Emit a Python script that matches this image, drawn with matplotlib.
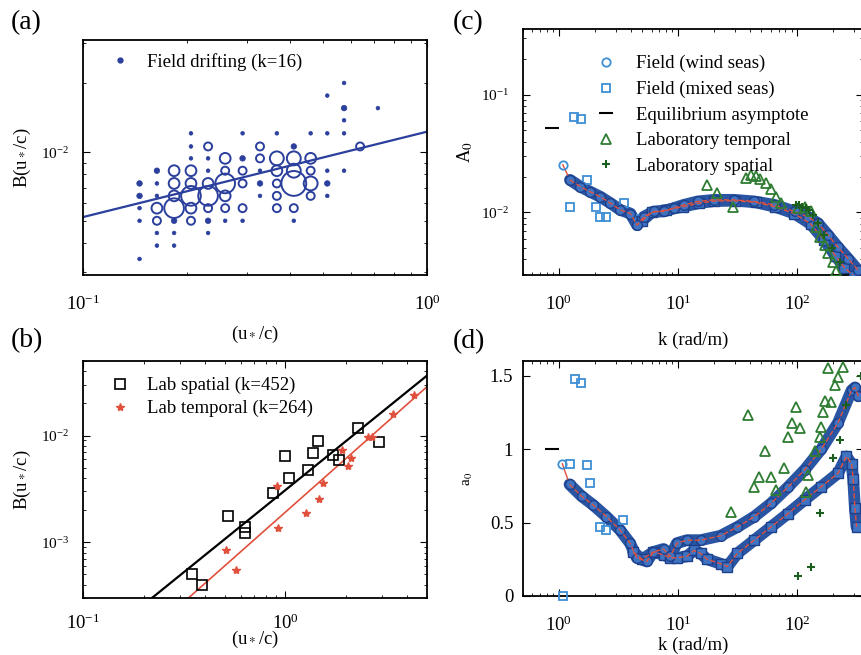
import numpy as np
import matplotlib
matplotlib.use("Agg")
import matplotlib.pyplot as plt
from matplotlib.lines import Line2D
from matplotlib.ticker import FixedLocator, NullFormatter

plt.rcParams.update({
    "font.family": "serif", "font.serif": ["Liberation Serif", "DejaVu Serif"],
    "mathtext.fontset": "stix", "font.size": 13.5,
    "xtick.direction": "in", "ytick.direction": "in",
    "xtick.top": True, "ytick.right": True,
    "xtick.major.size": 5, "ytick.major.size": 5,
    "xtick.minor.size": 2.5, "ytick.minor.size": 2.5,
    "xtick.major.pad": 14, "ytick.major.pad": 10,
    "axes.linewidth": 1.3,
})
NAVY, LIGHT, BAND, BAND_EDGE = "#2b3f9c", "#3d8fd6", "#2a55a3", "#1d3f8c"
GREEN, DGREEN, RED = "#2e7d32", "#1b5e20", "#e0503c"

# ---- (a) field drifting: binned u*/c vs B, marker size = number of samples
a_xbins = [0.146, 0.164, 0.184, 0.206, 0.231, 0.259, 0.291, 0.327, 0.366, 0.410,
           0.459, 0.513, 0.574, 0.639, 0.720]
a_ybins = [2.01e-2, 1.77e-2, 1.56e-2, 1.38e-2, 1.21e-2, 1.06e-2, 9.4e-3, 8.3e-3,
           7.3e-3, 6.44e-3, 5.69e-3, 5.01e-3, 4.43e-3, 3.90e-3, 3.41e-3]
# (column, row, count)
a_cells = [
    (0, 8, 2), (0, 9, 2), (0, 10, 1), (0, 11, 1), (0, 14, 1),
    (1, 7, 2), (1, 8, 1), (1, 9, 1), (1, 10, 4), (1, 11, 3), (1, 12, 1), (1, 13, 1),
    (2, 7, 4), (2, 8, 4), (2, 9, 4), (2, 10, 6), (2, 11, 2), (2, 12, 1), (2, 13, 1),
    (3, 4, 1), (3, 5, 1), (3, 6, 1), (3, 7, 4), (3, 8, 4), (3, 9, 6), (3, 10, 4), (3, 11, 3),
    (4, 5, 3), (4, 6, 1), (4, 7, 1), (4, 8, 4), (4, 9, 6), (4, 10, 3), (4, 11, 2), (4, 12, 1),
    (5, 6, 4), (5, 7, 3), (5, 8, 6), (5, 9, 4), (5, 10, 3), (5, 11, 1),
    (6, 4, 1), (6, 6, 2), (6, 7, 3), (6, 8, 3), (6, 10, 3), (6, 11, 1),
    (7, 5, 3), (7, 6, 3), (7, 7, 1), (7, 8, 2), (7, 9, 1),
    (8, 4, 1), (8, 6, 5), (8, 7, 4), (8, 8, 3), (8, 9, 3), (8, 10, 3),
    (9, 5, 2), (9, 6, 5), (9, 7, 5), (9, 8, 7), (9, 10, 3), (9, 11, 1),
    (10, 4, 1), (10, 6, 4), (10, 7, 3), (10, 8, 5), (10, 9, 3),
    (11, 1, 1), (11, 4, 1), (11, 7, 1), (11, 8, 2), (11, 9, 1),
    (12, 0, 1), (12, 2, 2), (12, 3, 1), (12, 4, 1), (12, 7, 1),
    (13, 5, 3), (14, 2, 1),
]
a_fit_x = [0.1, 1.0]
a_fit_B = [5.2e-3, 1.23e-2]

# ---- (b) lab data
b_sp_x = [0.346, 0.389, 0.520, 0.628, 0.628, 0.866, 0.992, 1.04, 1.29, 1.37, 1.44, 1.71, 1.83, 2.29, 2.90]
b_sp_B = [5.06e-4, 3.98e-4, 1.76e-3, 1.40e-3, 1.22e-3, 2.88e-3, 6.38e-3, 3.99e-3, 4.78e-3,
          6.87e-3, 8.85e-3, 6.62e-3, 5.94e-3, 1.18e-2, 8.65e-3]
b_tm_x = [0.506, 0.567, 0.91, 0.917, 1.26, 1.46, 1.53, 1.90, 2.03, 2.11, 2.57, 2.67, 3.38, 4.32]
b_tm_B = [8.4e-4, 5.5e-4, 3.37e-3, 1.35e-3, 1.87e-3, 2.53e-3, 3.63e-3, 7.38e-3, 5.21e-3,
          6.16e-3, 9.7e-3, 9.7e-3, 1.58e-2, 2.38e-2]
b_sp_fit_x, b_sp_fit_B = [0.219, 5.0], [3.0e-4, 3.65e-2]
b_tm_fit_x, b_tm_fit_B = [0.329, 5.0], [2.96e-4, 2.87e-2]

# ---- (c) A0 vs k
c_wind_k = [1.08, 1.24, 1.51, 1.83, 2.23, 2.71, 3.29, 3.99, 4.54, 5.17, 6.27, 7.61, 9.24, 11.2,
            14.6, 20.1, 29.6, 43.8, 64.6, 95.5, 123, 150, 183, 220, 268, 326]
c_wind_A = [2.54e-2, 1.89e-2, 1.66e-2, 1.50e-2, 1.36e-2, 1.20e-2, 1.05e-2, 9.8e-3, 7.8e-3, 9.2e-3,
            1.02e-2, 1.02e-2, 1.09e-2, 1.16e-2, 1.24e-2, 1.28e-2, 1.28e-2, 1.24e-2, 1.16e-2,
            1.02e-2, 9.2e-3, 8.1e-3, 6.4e-3, 5.1e-3, 4.07e-3, 3.23e-3]
c_mixpts_k = [1.24, 1.34, 1.53, 1.72, 2.06, 2.20, 2.50, 3.50, 4.69]
c_mixpts_A = [1.12e-2, 6.5e-2, 6.2e-2, 1.87e-2, 1.11e-2, 9.1e-3, 9.1e-3, 1.2e-2, 8.75e-3]
c_mix_k = [5.0, 6.0, 8.0, 11, 15, 20, 30, 45, 65, 95, 130, 170, 210, 250, 300]
c_mix_A = [8.5e-3, 1.0e-2, 1.05e-2, 1.12e-2, 1.2e-2, 1.25e-2, 1.26e-2, 1.22e-2, 1.12e-2,
           9.8e-3, 8.0e-3, 5.8e-3, 4.3e-3, 3.4e-3, 2.9e-3]
c_lt_k = [17.7, 21.2, 28.8, 37.3, 41.1, 45.3, 49.2, 55.0, 60.6, 66.7, 73.6, 102, 116, 132,
          145, 155, 171, 182, 201, 214]
c_lt_A = [1.71e-2, 1.47e-2, 1.12e-2, 1.96e-2, 2.09e-2, 2.02e-2, 1.92e-2, 1.77e-2, 1.58e-2,
          1.36e-2, 1.2e-2, 1.09e-2, 1.12e-2, 1.02e-2, 7.6e-3, 6.2e-3, 5.3e-3, 4.5e-3, 3.8e-3, 3.2e-3]
c_ls_k = [98, 104, 110, 118, 126, 135, 150, 170, 195, 230]
c_ls_A = [1.15e-2, 1.16e-2, 1.12e-2, 1.1e-2, 1.05e-2, 9.6e-3, 8.2e-3, 6.4e-3, 5.0e-3, 3.8e-3]
eq_k = [0.88]
c_eq_A = [5.2e-2]

# ---- (d) a0 vs k
d_wind_k = [1.07, 1.23, 1.55, 1.94, 2.51, 3.26, 3.96, 4.51, 5.48, 6.23, 7.57, 8.61, 9.81, 11.9,
            15.5, 22.8, 31.6, 43.7, 60.4, 83.6, 116, 160, 221, 287, 306, 327]
d_wind_a = [0.90, 0.76, 0.68, 0.62, 0.54, 0.45, 0.36, 0.26, 0.235, 0.30, 0.32, 0.27, 0.36, 0.38,
            0.38, 0.41, 0.47, 0.54, 0.63, 0.74, 0.86, 1.00, 1.18, 1.40, 1.42, 1.36]
d_mixpts_k = [1.08, 1.23, 1.36, 1.52, 1.71, 1.84, 2.21, 2.48, 3.48]
d_mixpts_a = [0.0, 0.90, 1.475, 1.45, 0.89, 0.77, 0.47, 0.45, 0.52]
d_mix_k = [4.2, 5.0, 6.23, 7.57, 8.61, 9.81, 11.9, 13.6, 15.5, 17.6, 22.8, 26.0, 31.6, 43.7,
           60.4, 83.6, 116, 160, 221, 260, 287, 296, 306, 316]
d_mix_a = [0.30, 0.25, 0.30, 0.28, 0.26, 0.26, 0.27, 0.31, 0.29, 0.25, 0.22, 0.20, 0.29, 0.38,
           0.47, 0.56, 0.655, 0.745, 0.836, 0.95, 0.90, 0.80, 0.60, 0.47]
d_lt_k = [27.7, 38.4, 43.7, 48.2, 54.2, 60.4, 66.5, 78.3, 83.6, 90.4, 98.6, 105, 119, 123,
          141, 155, 160, 165, 171, 182, 194, 207, 221, 244]
d_lt_a = [0.575, 1.233, 0.745, 0.813, 0.988, 0.813, 0.722, 0.87, 1.085, 1.177, 1.289, 1.143,
          0.711, 0.826, 0.99, 1.08, 1.149, 1.25, 1.33, 1.55, 1.32, 1.44, 1.49, 1.56]
d_ls_k = [102, 130, 155, 201, 229, 260, 344]
d_ls_a = [0.133, 0.20, 0.564, 0.94, 1.06, 1.30, 1.50]
d_eq_a = [1.0]

W, H = 861, 655


def box(l, t, r, b):
    return [l / W, 1 - b / H, (r - l) / W, (b - t) / H]


def band(ax, k, v, marker):
    ax.plot(k, v, color=BAND, lw=8.5, solid_capstyle="round", zorder=2)
    ax.plot(k, v, ls="none", marker=marker, ms=7, mfc="#3f74c2", mec=BAND_EDGE, mew=1.0, zorder=3)
    ax.plot(k, v, color=RED, lw=1.0, ls="--", zorder=4)


def no_minor_labels(ax):
    ax.xaxis.set_minor_formatter(NullFormatter())
    ax.yaxis.set_minor_formatter(NullFormatter())


fig = plt.figure(figsize=(W / 100, H / 100), dpi=100)
ax_a = fig.add_axes(box(83, 40, 427, 275))
ax_b = fig.add_axes(box(83, 361, 427, 598))
ax_c = fig.add_axes(box(523, 29, 863, 275))
ax_d = fig.add_axes(box(523, 361, 863, 596))

# (a)
size_of = {1: 7, 2: 16, 3: 33, 4: 60, 5: 100, 6: 200, 7: 320}
xs = [a_xbins[c] for c, r, n in a_cells]
ys = [a_ybins[r] for c, r, n in a_cells]
ss = [size_of[n] for c, r, n in a_cells]
fc = [NAVY if n <= 2 else "none" for c, r, n in a_cells]
lw = [0.5 if n <= 2 else 1.4 for c, r, n in a_cells]
ax_a.scatter(xs, ys, s=ss, facecolors=fc, edgecolors=NAVY, linewidths=lw, zorder=3)
ax_a.plot(a_fit_x, a_fit_B, color=NAVY, lw=1.6)
ax_a.set_xscale("log"); ax_a.set_yscale("log")
ax_a.set_xlim(0.1, 1.0); ax_a.set_ylim(2.9e-3, 3.1e-2)
ax_a.set_xlabel("(u$_*$/c)", labelpad=7)
ax_a.set_ylabel("B(u$_*$/c)", labelpad=6)
ax_a.legend([Line2D([], [], ls="none", marker="o", ms=3.5, color=NAVY)], ["Field drifting (k=16)"],
            loc="upper left", bbox_to_anchor=(0.0756, 0.945), borderaxespad=0, borderpad=0,
            frameon=False, handlelength=1.2, handletextpad=0.85)

# (b)
ax_b.plot(b_sp_fit_x, b_sp_fit_B, color="black", lw=1.6)
ax_b.plot(b_tm_fit_x, b_tm_fit_B, color=RED, lw=1.2)
ax_b.plot(b_sp_x, b_sp_B, ls="none", marker="s", ms=6.5, mfc="none", mec="black", mew=1.2,
          label="Lab spatial (k=452)")
ax_b.plot(b_tm_x, b_tm_B, ls="none", marker="*", ms=6, color=RED, label="Lab temporal (k=264)")
ax_b.set_xscale("log"); ax_b.set_yscale("log")
ax_b.set_xlim(0.1, 5.0); ax_b.set_ylim(3e-4, 5e-2)
ax_b.tick_params(axis="x", pad=11)
ax_b.set_xlabel("(u$_*$/c)", labelpad=-3)
ax_b.set_ylabel("B(u$_*$/c)", labelpad=6)
ax_b.legend(loc="upper left", bbox_to_anchor=(0.0756, 0.932), borderaxespad=0, borderpad=0,
            frameon=False, handlelength=1.2, handletextpad=0.85, labelspacing=0.3)

# (c)
band(ax_c, c_mix_k, c_mix_A, "s")
band(ax_c, c_wind_k[1:], c_wind_A[1:], "o")
ax_c.plot(c_wind_k[:2], c_wind_A[:2], color=RED, lw=1.0)
ax_c.plot(c_wind_k[:1], c_wind_A[:1], ls="none", marker="o", ms=6, mfc="none", mec=LIGHT, mew=1.3)
ax_c.plot(c_mixpts_k, c_mixpts_A, ls="none", marker="s", ms=6, mfc="none", mec=LIGHT, mew=1.3)
ax_c.plot(c_lt_k, c_lt_A, ls="none", marker="^", ms=6.5, mfc="none", mec=GREEN, mew=1.3, zorder=5)
ax_c.plot(c_ls_k, c_ls_A, ls="none", marker="+", ms=6, color=DGREEN, mew=1.5, zorder=5)
ax_c.plot(eq_k, c_eq_A, ls="none", marker="_", ms=10, color="black", mew=1.5)
ax_c.set_xscale("log"); ax_c.set_yscale("log")
ax_c.set_xlim(0.5, 358); ax_c.set_ylim(2.95e-3, 0.36)
ax_c.set_xlabel("k (rad/m)", labelpad=13)
ax_c.set_ylabel("A$_0$", labelpad=4)
handles = [
    Line2D([], [], ls="none", marker="o", ms=6, mfc="none", mec=LIGHT, mew=1.3),
    Line2D([], [], ls="none", marker="s", ms=6, mfc="none", mec=LIGHT, mew=1.3),
    Line2D([], [], ls="none", marker="_", ms=10, color="black", mew=1.5),
    Line2D([], [], ls="none", marker="^", ms=6.5, mfc="none", mec=GREEN, mew=1.3),
    Line2D([], [], ls="none", marker="+", ms=6, color=DGREEN, mew=1.5),
]
labels = ["Field (wind seas)", "Field (mixed seas)", "Equilibrium asymptote",
          "Laboratory temporal", "Laboratory spatial"]
ax_c.legend(handles, labels, loc="upper left", bbox_to_anchor=(0.212, 0.894), borderaxespad=0,
            borderpad=0, frameon=False, handlelength=1.2, handletextpad=1.0, labelspacing=0.45)

# (d)
band(ax_d, d_mix_k, d_mix_a, "s")
band(ax_d, d_wind_k[1:], d_wind_a[1:], "o")
ax_d.plot(d_wind_k[:2], d_wind_a[:2], color=RED, lw=1.0)
ax_d.plot(d_wind_k[:1], d_wind_a[:1], ls="none", marker="o", ms=6, mfc="none", mec=LIGHT, mew=1.3)
ax_d.plot(d_mixpts_k, d_mixpts_a, ls="none", marker="s", ms=6, mfc="none", mec=LIGHT, mew=1.3,
          clip_on=False, zorder=6)
ax_d.plot(d_lt_k, d_lt_a, ls="none", marker="^", ms=6.5, mfc="none", mec=GREEN, mew=1.3, zorder=5)
ax_d.plot(d_ls_k, d_ls_a, ls="none", marker="+", ms=6, color=DGREEN, mew=1.5, zorder=5)
ax_d.plot(eq_k, d_eq_a, ls="none", marker="_", ms=10, color="black", mew=1.5)
ax_d.set_xscale("log")
ax_d.set_xlim(0.5, 358); ax_d.set_ylim(0, 1.6)
ax_d.yaxis.set_major_locator(FixedLocator([0, 0.5, 1, 1.5]))
ax_d.set_yticklabels(["0", "0.5", "1", "1.5"])
ax_d.tick_params(axis="y", pad=7)
ax_d.set_xlabel("k (rad/m)", labelpad=1)
ax_d.set_ylabel("a$_0$", labelpad=11, fontsize=11)

for ax in (ax_a, ax_b, ax_c):
    ax.tick_params(axis="y", labelsize=11)
for ax in (ax_a, ax_b, ax_c, ax_d):
    no_minor_labels(ax)

for lbl, x, y in [("(a)", 11, 23), ("(b)", 11, 341), ("(c)", 453, 23), ("(d)", 453, 342)]:
    fig.text(x / W, 1 - y / H, lbl, fontsize=20, ha="left", va="center")

fig.savefig("out.png", dpi=100)
